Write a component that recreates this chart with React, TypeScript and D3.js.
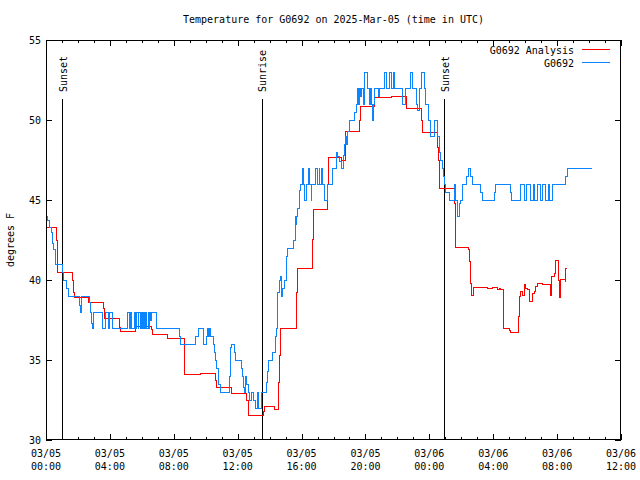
import React from "react";
import * as d3 from "d3";

const titleText = "Temperature for G0692 on 2025-Mar-05 (time in UTC)";
const yLabel = "degrees F";
const seriesNames = ["G0692 Analysis", "G0692"];
const seriesColors = ["#ff0000", "#0a84ff"];

const xTickHours = [0, 4, 8, 12, 16, 20, 24, 28, 32, 36];
const xTickDates = ["03/05", "03/05", "03/05", "03/05", "03/05", "03/05", "03/06", "03/06", "03/06", "03/06"];
const xTickTimes = ["00:00", "04:00", "08:00", "12:00", "16:00", "20:00", "00:00", "04:00", "08:00", "12:00"];
const xMinorHours = d3.range(0, 37, 1);
const yTicks = [30, 35, 40, 45, 50, 55];

const sunHours = [1.02, 13.52, 24.94];
const sunLabels = ["Sunset", "Sunrise", "Sunset"];

// Analysis (red) series: hours since 03/05 00:00 UTC, temperature F
const analysisHours = [
  0, 0.67, 0.75, 1.67, 1.72, 1.78, 2.67, 3.6, 3.65, 4.6, 4.65, 5.6, 5.65, 6.6, 6.65, 7.6,
  8.65, 8.7, 9.67, 10.63, 10.7, 11.6, 12.55, 12.65, 13.6, 13.68, 14.3, 14.55, 14.62, 14.68,
  15.67, 15.73, 16.67, 16.73, 17.65, 17.7, 18.5, 18.73, 19.65, 19.72, 20.56, 21.6, 22.54,
  22.6, 23.54, 23.6, 24.5, 24.58, 24.65, 25.6, 25.65, 26.46, 26.52, 26.6, 26.67, 26.77,
  27.65, 27.96, 28.27, 28.38, 28.48, 28.62, 28.66, 29.0, 29.1, 29.58, 29.67, 29.73, 29.83,
  29.94, 30.04, 30.15, 30.25, 30.46, 30.56, 30.67, 30.77, 31.08, 31.6, 31.67, 31.81, 31.92,
  32.08, 32.13, 32.19, 32.5, 32.54, 32.6,
];
const analysisTemps = [
  43.3, 42.5, 40.45, 40.0, 39.2, 38.9, 38.6, 38.2, 37.6, 37.05, 36.77, 37.05, 37.1, 36.9, 36.6, 36.35,
  35.25, 34.1, 34.17, 33.75, 33.3, 32.9, 32.5, 31.56, 31.8, 32.1, 31.9, 33.6, 35.3, 37.0,
  39.2, 40.7, 42.55, 44.4, 46.0, 47.67, 47.5, 49.3, 50.0, 50.83, 51.4, 51.5, 51.0,
  50.7, 50.0, 49.2, 48.3, 47.5, 45.73, 44.8, 42.05, 41.9, 41.15, 39.8, 39.06, 39.54,
  39.45, 39.54, 39.4, 39.5, 39.4, 38.1, 37.0, 36.83, 36.73, 37.7, 38.96, 39.27, 39.06,
  39.7, 39.5, 39.4, 38.65, 39.17, 39.27, 39.6, 39.8, 39.7, 39.06, 40.25, 40.4, 41.25,
  40.0, 38.9, 40.04, 39.9, 40.7, 40.7,
];

// Observed (blue) series
const obsHours = [
  0, 0.1, 0.2, 0.33, 0.42, 0.5, 0.62, 1.02, 1.1, 1.29, 1.4, 2.125, 2.17, 2.22, 2.71, 2.81,
  2.875, 2.92, 2.96, 3.0, 3.54, 3.75, 3.9, 4.0, 4.17,
  5.13, 5.2, 5.27, 5.34, 5.55, 5.62, 5.69, 5.76, 5.82, 5.89, 5.97, 6.04, 6.1, 6.17, 6.24, 6.31,
  6.39, 6.46, 6.5, 6.56, 6.6,
  6.9, 8.33, 8.4, 9.375, 9.52, 9.83, 10.04, 10.12, 10.2, 10.25, 10.3, 10.46, 10.52, 10.6,
  10.7, 10.77, 10.83, 10.92, 11.5, 11.55, 11.58, 11.62, 11.81, 11.88, 12.23, 12.3, 12.375,
  12.44, 12.5, 12.58, 12.65, 12.75, 12.85, 13.02, 13.1, 13.23, 13.29, 13.48, 13.79, 13.85,
  13.94, 14.21, 14.35, 14.4, 14.48, 14.52, 14.625, 14.69, 14.73, 14.83, 14.94, 15.04, 15.15,
  15.52, 15.6, 15.64, 15.68, 15.73, 15.875, 15.94, 16.05, 16.1, 16.2, 16.3, 16.45, 16.5,
  16.6, 16.65, 16.9, 17.0, 17.1, 17.15, 17.25, 17.3, 17.45, 17.65, 17.96, 18.17, 18.27,
  18.4, 18.52, 18.65, 18.7, 18.73, 18.79, 18.9, 19.0, 19.31, 19.42, 19.52, 19.58, 19.65,
  19.72, 19.78, 19.85, 19.94, 20.15, 20.25, 20.3, 20.4, 20.46, 20.5, 20.56, 20.8, 20.85,
  21.19, 21.29, 21.5, 21.6, 21.75, 21.8, 22.33, 22.5, 22.79, 22.96, 23.17, 23.27, 23.375,
  23.54, 23.71, 23.79, 23.96, 24.1, 24.31, 24.52, 24.625, 24.73, 24.8, 24.875, 24.95, 25.04,
  25.25, 25.56, 25.6, 25.64, 25.77, 25.9, 25.98, 26.08, 26.3, 26.46, 26.6, 26.7, 27.2, 27.33,
  28.06, 28.17, 29.1, 29.15,
  29.73, 29.95, 30.1, 30.35, 30.5, 30.6, 30.75, 30.95, 31.1, 31.3, 31.45, 31.55, 31.71, 32.54, 32.65, 34.2,
];
const obsTemps = [
  44.0, 43.75, 43.3, 43.0, 42.3, 41.9, 41.0, 40.5, 40.0, 39.5, 39.0, 38.4, 38.0, 39.0, 38.6, 38.0,
  37.3, 37.0, 37.6, 38.0, 37.0, 38.0, 37.0, 38.0, 37.0,
  38.0, 37.0, 38.0, 37.0, 38.0, 37.0, 38.0, 37.0, 38.0, 37.0, 38.0, 37.0, 38.0, 37.0, 38.0, 37.0,
  38.0, 37.0, 38.0, 37.5, 38.0,
  37.0, 36.5, 36.0, 36.5, 37.0, 36.0, 36.5, 37.0, 36.5, 37.0, 36.5, 36.0, 35.5, 35.0,
  34.5, 34.0, 33.5, 33.0, 34.0, 35.0, 35.8, 36.0, 35.5, 35.0, 34.5, 34.0, 33.3,
  33.0, 34.0, 33.5, 33.0, 32.5, 33.0, 32.5, 32.0, 33.0, 32.0, 33.0, 33.6, 34.3,
  35.0, 35.5, 36.5, 37.0, 38.4, 39.2, 40.0, 40.25, 39.0, 39.5, 40.0, 41.5, 42.0,
  42.5, 44.0, 43.5, 44.0, 44.5, 45.6, 46.0, 47.0, 46.0, 45.0, 46.0, 47.0, 46.0,
  45.0, 46.0, 47.0, 46.0, 47.0, 46.0, 47.0, 46.0, 45.0, 46.0, 47.0, 48.0, 47.7,
  47.4, 47.0, 47.8, 48.5, 49.0, 48.5, 49.3, 50.0, 50.5, 51.0, 52.0, 51.0, 52.0,
  51.5, 52.0, 51.0, 53.0, 52.0, 51.0, 52.0, 51.0, 50.0, 51.0, 52.0, 51.5, 52.0,
  53.0, 52.0, 53.0, 52.0, 53.0, 52.0, 51.0, 52.0, 53.0, 52.0, 51.0, 50.6, 52.0,
  53.0, 52.0, 51.0, 50.0, 49.0, 50.0, 49.0, 48.0, 47.5, 47.0, 46.5, 46.0, 45.5,
  45.0, 45.5, 46.0, 45.0, 44.0, 44.8, 45.0, 46.0, 46.5, 47.0, 46.5, 46.0, 45.5, 45.0,
  45.5, 46.0, 45.5, 45.0,
  46.0, 45.0, 46.0, 45.0, 46.0, 45.0, 46.0, 45.0, 46.0, 45.0, 46.0, 45.0, 46.0, 46.5, 47.0, 47.0,
];

const W = 640;
const H = 480;
const left = 46;
const right = 621;
const top = 40;
const bottom = 440;
const FONT = "'DejaVu Sans Mono', 'Liberation Mono', monospace";

export default function App() {
  const x = d3.scaleLinear().domain([0, 36]).range([left, right]);
  const y = d3.scaleLinear().domain([30, 55]).range([bottom, top]);

  const line = d3
    .line<[number, number]>()
    .x((d) => x(d[0]))
    .y((d) => y(d[1]))
    .curve(d3.curveStepAfter);

  const redPts = analysisHours.map((h, i) => [h, analysisTemps[i]] as [number, number]);
  const bluePts = obsHours.map((h, i) => [h, obsTemps[i]] as [number, number]);

  const px = (v: number) => Math.round(v) + 0.5;

  return (
    <svg width={W} height={H} style={{ display: "block", position: "absolute", left: 0, top: 0, background: "#fff" }}>
      <rect x={0} y={0} width={W} height={H} fill="#fff" />
      <defs>
        <clipPath id="plotclip">
          <rect x={left} y={top} width={right - left} height={bottom - top} />
        </clipPath>
      </defs>
      <text x={(left + right) / 2} y={23} textAnchor="middle" fontFamily={FONT} fontSize={10} fill="#000">
        {titleText}
      </text>
      <text
        transform={`translate(14,${(top + bottom) / 2}) rotate(-90)`}
        textAnchor="middle"
        fontFamily={FONT}
        fontSize={10}
        fill="#000"
      >
        {yLabel}
      </text>

      {yTicks.map((t) => (
        <g key={"y" + t}>
          <line x1={left} x2={left + 6} y1={px(y(t))} y2={px(y(t))} stroke="#000" shapeRendering="crispEdges" />
          <line x1={right - 6} x2={right} y1={px(y(t))} y2={px(y(t))} stroke="#000" shapeRendering="crispEdges" />
          <text x={41} y={y(t) + 4} textAnchor="end" fontFamily={FONT} fontSize={10} fill="#000">
            {t}
          </text>
        </g>
      ))}

      {xMinorHours.map((h) => (
        <g key={"m" + h}>
          <line x1={px(x(h))} x2={px(x(h))} y1={bottom} y2={bottom - 3} stroke="#000" shapeRendering="crispEdges" />
          <line x1={px(x(h))} x2={px(x(h))} y1={top} y2={top + 3} stroke="#000" shapeRendering="crispEdges" />
        </g>
      ))}
      {xTickHours.map((h, i) => (
        <g key={"x" + h}>
          <line x1={px(x(h))} x2={px(x(h))} y1={bottom} y2={bottom - 6} stroke="#000" shapeRendering="crispEdges" />
          <line x1={px(x(h))} x2={px(x(h))} y1={top} y2={top + 6} stroke="#000" shapeRendering="crispEdges" />
          <text x={x(h)} y={457} textAnchor="middle" fontFamily={FONT} fontSize={10} fill="#000">
            {xTickDates[i]}
          </text>
          <text x={x(h)} y={470} textAnchor="middle" fontFamily={FONT} fontSize={10} fill="#000">
            {xTickTimes[i]}
          </text>
        </g>
      ))}

      {sunHours.map((h, i) => (
        <g key={"s" + i}>
          <line x1={px(x(h))} x2={px(x(h))} y1={99} y2={bottom} stroke="#000" shapeRendering="crispEdges" />
          <text
            transform={`translate(${x(h) + 1},92) rotate(-90)`}
            dy="0.35em"
            textAnchor="start"
            fontFamily={FONT}
            fontSize={10}
            fill="#000"
          >
            {sunLabels[i]}
          </text>
        </g>
      ))}

      <g clipPath="url(#plotclip)">
        <path d={line(redPts) || ""} fill="none" stroke={seriesColors[0]} strokeWidth={1} shapeRendering="crispEdges" />
        <path d={line(bluePts) || ""} fill="none" stroke={seriesColors[1]} strokeWidth={1} shapeRendering="crispEdges" />
      </g>

      {seriesNames.map((n, i) => (
        <g key={"l" + i}>
          <text x={574} y={54 + i * 13} textAnchor="end" fontFamily={FONT} fontSize={10} fill="#000">
            {n}
          </text>
          <line x1={582} x2={610} y1={49.5 + i * 13} y2={49.5 + i * 13} stroke={seriesColors[i]} shapeRendering="crispEdges" />
        </g>
      ))}

      <rect x={left + 0.5} y={top + 0.5} width={right - left - 1} height={bottom - top - 1} fill="none" stroke="#000" shapeRendering="crispEdges" />
    </svg>
  );
}
